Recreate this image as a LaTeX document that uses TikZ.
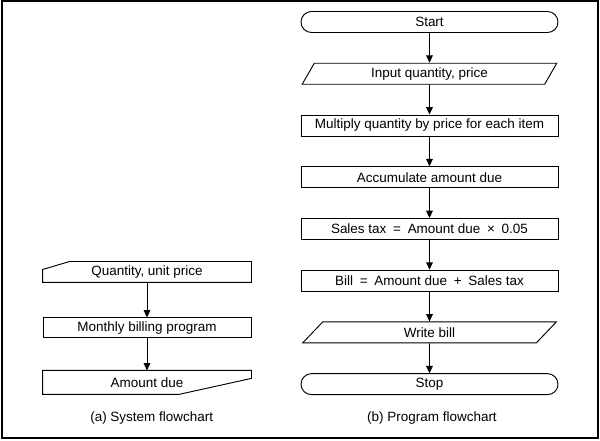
\documentclass[tikz,border=0pt]{standalone}
\usepackage{fontspec}
\setmainfont{Liberation Sans}
\usetikzlibrary{arrows.meta,positioning,shapes.geometric,calc}
\tikzset{block/.style={draw,line width=0.8pt,minimum width=7.71cm,minimum height=0.63cm,inner sep=0pt,font=\fontsize{11.5}{13}\selectfont},
term/.style={block,rounded corners=3.15mm},
io/.style={block,trapezium,trapezium left angle=64,trapezium right angle=116,trapezium stretches=true,minimum width=7.65cm},
sysbox/.style={block,draw=none,minimum width=6.24cm,minimum height=0.6cm},
edge/.style={-{Triangle[width=2mm,length=2.2mm]},line width=0.8pt}}
\begin{document}
\begin{tikzpicture}[node distance=8.94mm]
\useasboundingbox(0,0)rectangle(18,-13.23);
\draw[line width=0.9pt](0.06,-0.03)rectangle(17.94,-13.14);
% (a) system flowchart
\node[sysbox](card)at(4.41,-8.16){Quantity, unit price};
\node[sysbox,draw,below=10.5mm of card](prog){Monthly billing program};
\node[sysbox,minimum height=0.69cm,below=9.6mm of prog](report){Amount due};
\draw[line width=0.8pt](card.south west)--([yshift=-2.4mm]card.north west)--([xshift=8.1mm]card.north west)--(card.north east)--(card.south east)--cycle;
\draw[line width=0.8pt](report.north west)--(report.north east)--([yshift=-2.4mm]report.north east)--([xshift=4.1cm]report.south west)--(report.south west)--cycle;
\draw[edge](card)--(prog);\draw[edge](prog)--(report);
\node[font=\fontsize{11.5}{13}\selectfont](capa)at(4.55,-12.54){(a) System flowchart};
% (b) program flowchart
\node[term](start)at(12.885,-0.66){Start};
\node[io,below=of start](input){Input quantity, price};
\node[block,below=of input](mult){Multiply quantity by price for each item};
\node[block,below=of mult](accum){Accumulate amount due};
\node[block,below=of accum](tax){Sales tax\enspace=\enspace Amount due\enspace×\enspace0.05};
\node[block,below=of tax](bill){Bill\enspace=\enspace Amount due\enspace+\enspace Sales tax};
\node[io,below=of bill](write){Write bill};
\node[term,below=of write](stop){Stop};
\draw[edge](start)--(input);\draw[edge](input)--(mult);\draw[edge](mult)--(accum);
\draw[edge](accum)--(tax);\draw[edge](tax)--(bill);\draw[edge](bill)--(write);
\draw[edge](write)--(stop);
\node[font=\fontsize{11.5}{13}\selectfont](capb)at(12.96,-12.54){(b) Program flowchart};
\end{tikzpicture}
\end{document}
